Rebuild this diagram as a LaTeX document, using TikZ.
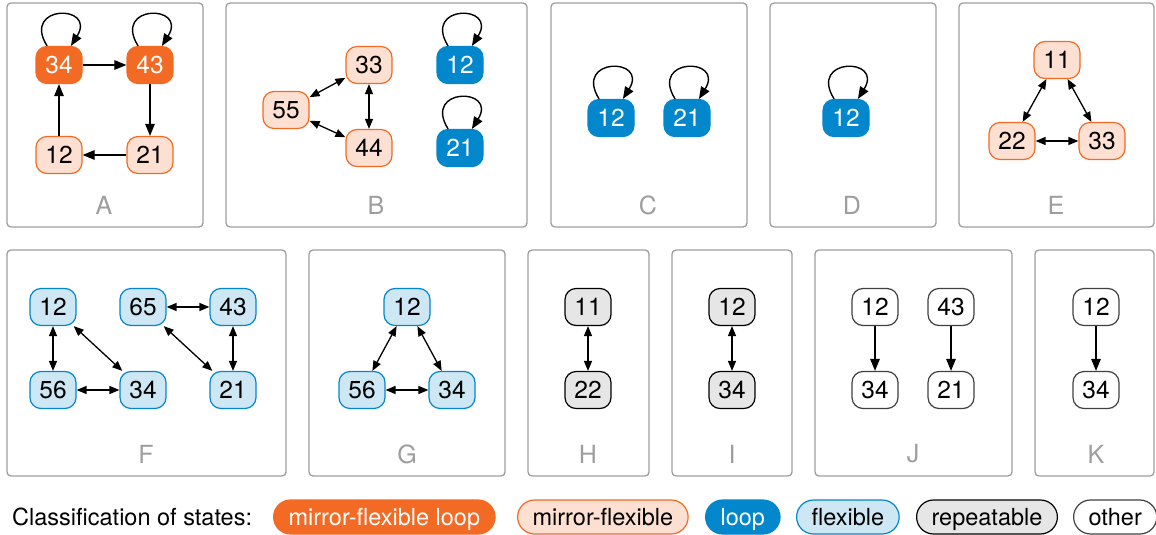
\documentclass[tikz,border=0pt]{standalone}
\usepackage{fontspec}
\setmainfont{TeX Gyre Heros}
\usetikzlibrary{arrows.meta}
\definecolor{mfl}{HTML}{F26A24}
\definecolor{mfpale}{HTML}{FDE0D2}
\definecolor{lp}{HTML}{0287CD}
\definecolor{flpale}{HTML}{CDE7F4}
\definecolor{reppale}{HTML}{E6E6E6}
\definecolor{framegray}{HTML}{9E9E9E}
\begin{document}
\begin{tikzpicture}[x=1pt,y=1pt]

\tikzset{state/.style = {shape=rectangle, rounded corners=11pt, minimum width=46pt, minimum height=37pt, inner sep=0pt, line width=1.2pt, font=\fontsize{24.5}{28}\selectfont}}
\tikzset{mfloop/.style = {state, fill=mfl, draw=mfl, text=white}}
\tikzset{mirror/.style = {state, fill=mfpale, draw=mfl}}
\tikzset{loopstate/.style = {state, fill=lp, draw=lp, text=white}}
\tikzset{flex/.style = {state, fill=flpale, draw=lp}}
\tikzset{rep/.style = {state, fill=reppale, draw=black}}
\tikzset{other/.style = {state, fill=white, draw=black!75}}
\tikzset{oneway/.style = {line width=1.4pt, -{Triangle[length=12pt,width=9.5pt]}}}
\tikzset{twoway/.style = {line width=1.3pt, {Triangle[length=10pt,width=8pt]}-{Triangle[length=10pt,width=8pt]}}}
\tikzset{selfloop/.style = {out=122, in=58, looseness=5.3}}
\tikzset{panel/.style = {draw=framegray, line width=1.3pt, rounded corners=4pt}}
\tikzset{panellabel/.style = {text=framegray, font=\fontsize{25}{30}\selectfont}}
\tikzset{pill/.style = {rounded corners=17pt, minimum height=34pt, inner xsep=15pt, inner ysep=0pt, text height=17pt, text depth=0pt, line width=1.2pt, anchor=west, font=\fontsize{23.5}{28}\selectfont}}

\useasboundingbox (0,0) rectangle (1156,-535);

%panels
\draw[panel] (7,-3) rectangle (203,-227);
\draw[panel] (226,-3) rectangle (527,-227);
\draw[panel] (551,-3) rectangle (747,-227);
\draw[panel] (770,-3) rectangle (936,-227);
\draw[panel] (959,-3) rectangle (1154,-227);
\draw[panel] (7,-250) rectangle (286,-476);
\draw[panel] (309,-250) rectangle (505,-476);
\draw[panel] (528,-250) rectangle (649,-476);
\draw[panel] (672,-250) rectangle (792,-476);
\draw[panel] (815,-250) rectangle (1012,-476);
\draw[panel] (1035,-250) rectangle (1154,-476);

%verticies A
\node[mfloop] (A34) at (59,-65) {34};
\node[mfloop] (A43) at (150,-65) {43};
\node[mirror] (A12) at (59,-155) {12};
\node[mirror] (A21) at (150,-155) {21};
\node[panellabel] (labA) at (104,-205) {A};
%verticies B
\node[mirror] (B33) at (369,-65) {33};
\node[mirror] (B55) at (286,-110) {55};
\node[mirror] (B44) at (369,-148) {44};
\node[loopstate] (B12) at (460,-65) {12};
\node[loopstate] (B21) at (460,-148) {21};
\node[panellabel] (labB) at (376,-205) {B};
%verticies C
\node[loopstate] (C12) at (611,-118) {12};
\node[loopstate] (C21) at (687,-118) {21};
\node[panellabel] (labC) at (648,-205) {C};
%verticies D
\node[loopstate] (D12) at (846,-118) {12};
\node[panellabel] (labD) at (852,-205) {D};
%verticies E
\node[mirror] (E11) at (1057,-60) {11};
\node[mirror] (E22) at (1012,-141) {22};
\node[mirror] (E33) at (1102,-141) {33};
\node[panellabel] (labE) at (1056,-205) {E};
%verticies F
\node[flex] (F12) at (53,-307) {12};
\node[flex] (F65) at (143,-307) {65};
\node[flex] (F43) at (233,-307) {43};
\node[flex] (F56) at (53,-390) {56};
\node[flex] (F34) at (143,-390) {34};
\node[flex] (F21) at (233,-390) {21};
\node[panellabel] (labF) at (146,-454) {F};
%verticies G
\node[flex] (G12) at (407,-307) {12};
\node[flex] (G56) at (362,-390) {56};
\node[flex] (G34) at (452,-390) {34};
\node[panellabel] (labG) at (407,-454) {G};
%verticies H
\node[rep] (H11) at (588,-307) {11};
\node[rep] (H22) at (588,-390) {22};
\node[panellabel] (labH) at (588,-454) {H};
%verticies I
\node[rep] (I12) at (732,-307) {12};
\node[rep] (I34) at (732,-390) {34};
\node[panellabel] (labI) at (732,-454) {I};
%verticies J
\node[other] (J12) at (875,-307) {12};
\node[other] (J34) at (875,-390) {34};
\node[other] (J43) at (951,-307) {43};
\node[other] (J21) at (951,-390) {21};
\node[panellabel] (labJ) at (913,-454) {J};
%verticies K
\node[other] (K12) at (1096,-307) {12};
\node[other] (K34) at (1096,-390) {34};
\node[panellabel] (labK) at (1096,-454) {K};

%edges
\path[oneway] (A34) edge (A43) (A43) edge (A21) (A21) edge (A12) (A12) edge (A34);
\path[oneway] (A34) edge[selfloop] (A34) (A43) edge[selfloop] (A43);
\path[twoway] (B55) edge (B33) (B33) edge (B44) (B55) edge (B44);
\path[oneway] (B12) edge[selfloop] (B12) (B21) edge[selfloop] (B21);
\path[oneway] (C12) edge[selfloop] (C12) (C21) edge[selfloop] (C21);
\path[oneway] (D12) edge[selfloop] (D12);
\path[twoway] (E11) edge (E22) (E11) edge (E33) (E22) edge (E33);
\path[twoway] (F12) edge (F56) (F12) edge (F34) (F56) edge (F34);
\path[twoway] (F65) edge (F43) (F65) edge (F21) (F43) edge (F21);
\path[twoway] (G12) edge (G56) (G12) edge (G34) (G56) edge (G34);
\path[twoway] (H11) edge (H22);
\path[twoway] (I12) edge (I34);
\path[oneway] (J12) edge (J34) (J43) edge (J21);
\path[oneway] (K12) edge (K34);

%legend
\node[anchor=west, text height=17pt, text depth=0pt, inner sep=0pt, font=\fontsize{23.5}{28}\selectfont] (title) at (12,-517) {Classification of states:};
\node[pill, fill=mfl, draw=mfl, text=white] (keyA) at (273,-517) {mirror-flexible loop};
\node[pill, fill=mfpale, draw=mfl] (keyB) at (517,-517) {mirror-flexible};
\node[pill, fill=lp, draw=lp, text=white] (keyC) at (705,-517) {loop};
\node[pill, fill=flpale, draw=lp] (keyD) at (796,-517) {flexible};
\node[pill, fill=reppale, draw=black] (keyE) at (916,-517) {repeatable};
\node[pill, fill=white, draw=black!75] (keyF) at (1073,-517) {other};
\end{tikzpicture}
\end{document}
